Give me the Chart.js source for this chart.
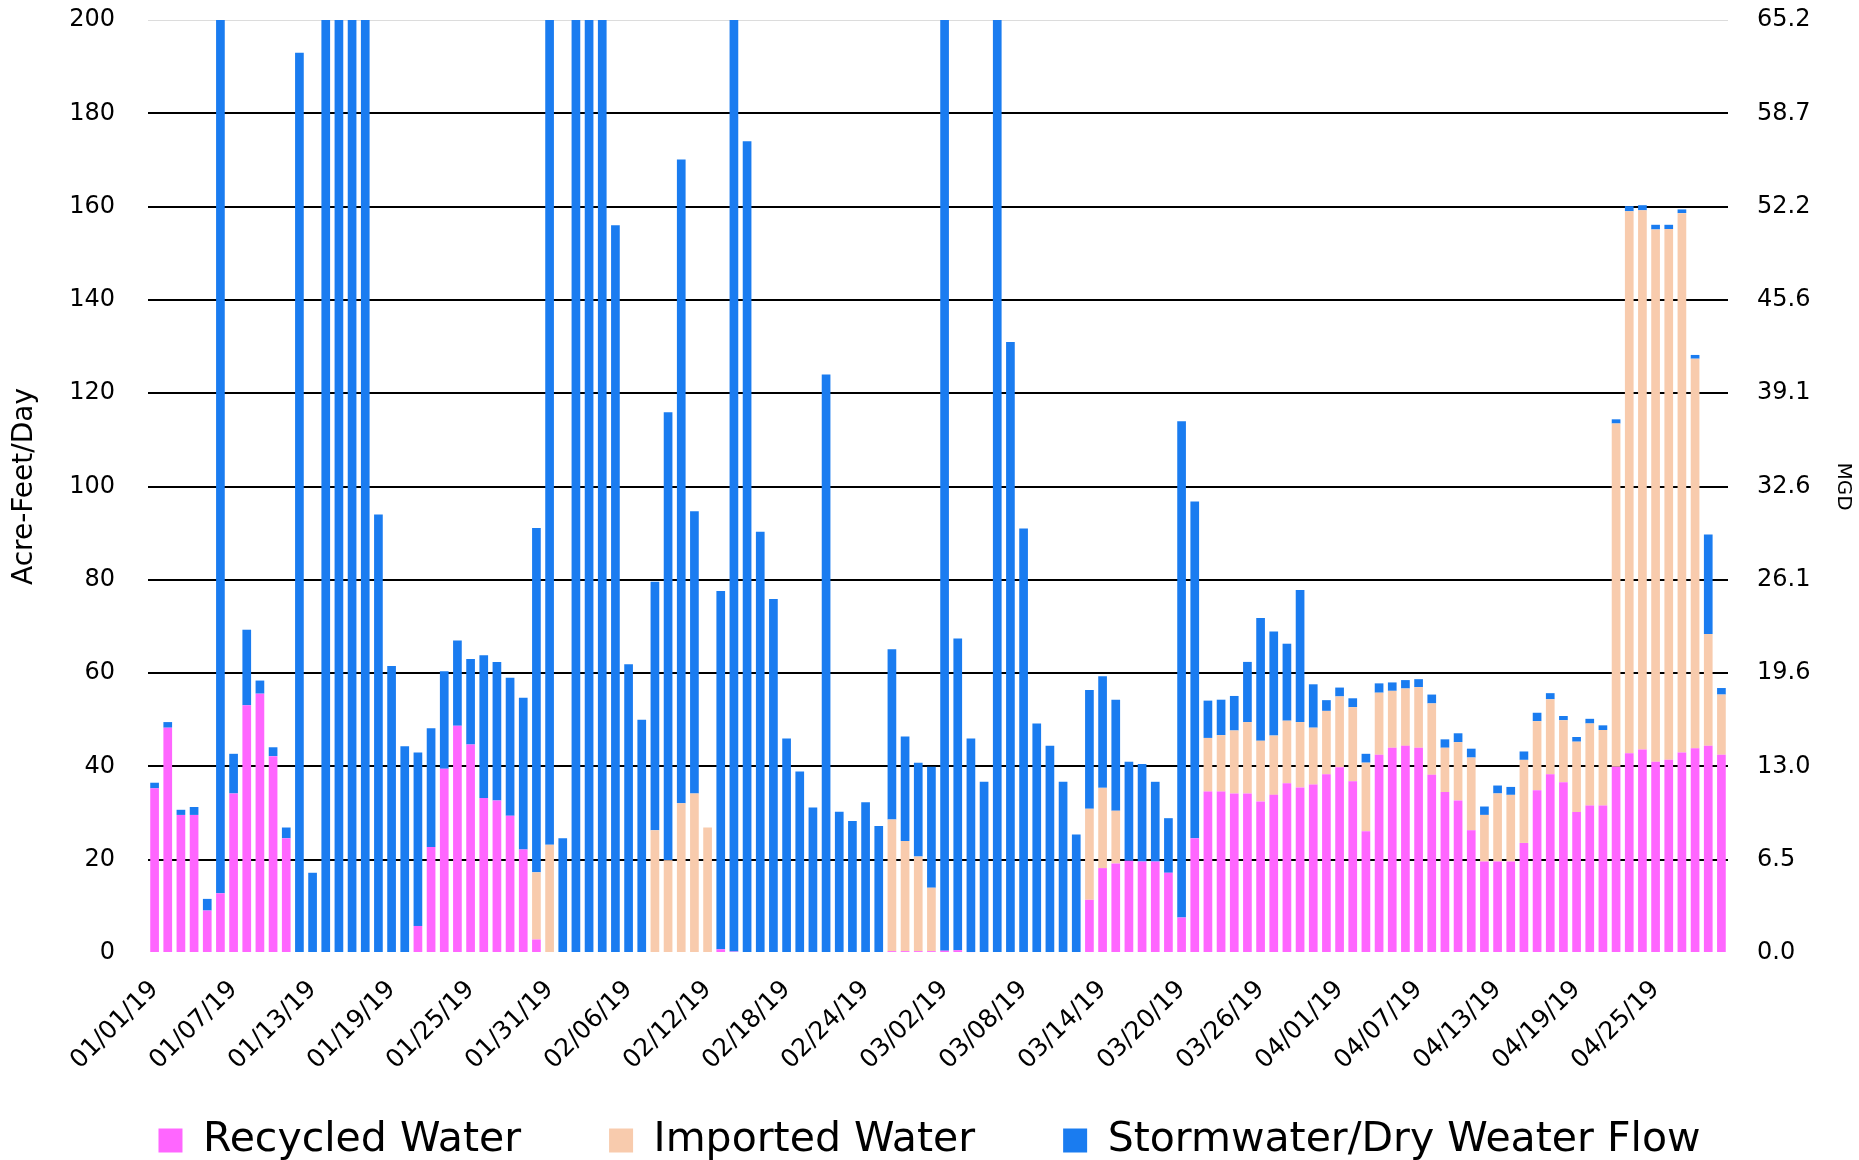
<!DOCTYPE html>
<html lang="en">
<head>
    <meta charset="UTF-8">
    <title>Water Sources</title>
    <script src="https://cdn.jsdelivr.net/npm/chart.js"></script>
    <style>
        body { margin: 0; background: #fff; }
        #wrap { width: 1859px; height: 1160px; position: relative; }
    </style>
</head>
<body>
    <div id="wrap"><canvas id="waterChart"></canvas></div>

    <script>
        // one bar per day, 01/01/19 .. 04/30/19
        const startDate = new Date(2019, 0, 1);
        const dayCount = 120;
        const dates = [];
        for (let i = 0; i < dayCount; i++) {
            const d = new Date(startDate.getFullYear(), startDate.getMonth(), startDate.getDate() + i);
            const mm = String(d.getMonth() + 1).padStart(2, '0');
            const dd = String(d.getDate()).padStart(2, '0');
            dates.push(mm + '/' + dd + '/19');
        }

        // acre-feet per day (bars above 200 run off the top of the plot)
        const recycled = [
            35.3, 48.3, 29.6, 29.6, 9.1, 12.8, 34.2, 53.1, 55.6, 42.2,
            24.6, 0, 0, 0, 0, 0, 0, 0, 0, 0,
            5.8, 22.7, 39.5, 48.7, 44.7, 33.2, 32.7, 29.4, 22.2, 2.9,
            0, 0, 0, 0, 0, 0, 0, 0, 0, 0,
            0, 0, 0, 0.8, 0.3, 0, 0, 0, 0, 0,
            0, 0, 0, 0, 0, 0, 0.4, 0.4, 0.4, 0.4,
            0.5, 0.6, 0.2, 0, 0, 0, 0, 0, 0, 0,
            0, 11.4, 18.2, 19.2, 19.8, 19.6, 19.6, 17.2, 7.6, 24.6,
            34.6, 34.6, 34.2, 34.2, 32.5, 33.9, 36.4, 35.5, 36.1, 38.3,
            39.8, 36.8, 26.1, 42.5, 44.0, 44.4, 44.0, 38.2, 34.5, 32.7,
            26.3, 19.6, 19.6, 19.6, 23.6, 34.9, 38.3, 36.6, 30.2, 31.6,
            31.6, 39.9, 42.8, 43.6, 41.0, 41.4, 43.0, 43.9, 44.4, 42.5
        ];
        const imported = [
            0, 0, 0, 0, 0, 0, 0, 0, 0, 0,
            0, 0, 0, 0, 0, 0, 0, 0, 0, 0,
            0, 0, 0, 0, 0, 0, 0, 0, 0, 14.4,
            23.2, 0, 0, 0, 0, 0, 0, 0, 26.3, 19.9,
            32.1, 34.2, 26.9, 0, 0, 0, 0, 0, 0, 0,
            0, 0, 0, 0, 0, 0, 28.2, 23.6, 20.3, 13.6,
            0, 0, 0, 0, 0, 0, 0, 0, 0, 0,
            0, 19.5, 17.2, 11.3, 0, 0, 0, 0, 0, 0,
            11.5, 12.1, 13.5, 15.3, 13.0, 12.7, 13.4, 14.0, 12.2, 13.6,
            15.2, 15.9, 14.7, 13.3, 12.2, 12.3, 13.0, 15.3, 9.5, 12.5,
            15.6, 10.0, 14.6, 14.3, 17.8, 14.8, 16.1, 13.3, 15.1, 17.6,
            16.2, 73.6, 116.2, 115.6, 114.1, 113.8, 115.6, 83.5, 24.0, 12.9
        ];
        const stormwater = [
            1.2, 1.2, 1.1, 1.7, 2.5, 250, 8.5, 16.2, 2.8, 1.9,
            2.3, 193, 17.2, 250, 250, 250, 250, 94.0, 61.5, 44.3,
            37.2, 25.5, 20.9, 18.3, 18.3, 30.6, 29.7, 29.6, 32.5, 73.8,
            250, 24.6, 250, 250, 250, 156, 61.9, 50.0, 53.3, 96.0,
            138, 60.5, -0.5, 76.8, 250, 174, 90.3, 75.9, 46.0, 38.9,
            31.2, 124, 30.3, 28.3, 32.3, 27.2, 36.5, 22.4, 20.1, 25.9,
            250, 66.8, 45.8, 36.7, 250, 131, 91.0, 49.2, 44.4, 36.7,
            25.4, 25.5, 23.9, 23.8, 21.2, 20.9, 17.1, 11.7, 106.4, 72.2,
            8.0, 7.6, 7.4, 12.9, 26.3, 22.3, 16.5, 28.3, 9.3, 2.3,
            1.9, 1.9, 1.9, 2.0, 1.8, 1.8, 1.7, 1.9, 1.8, 1.9,
            1.9, 1.8, 1.7, 1.7, 1.8, 1.8, 1.3, 0.9, 1.0, 1.0,
            1.0, 0.9, 1.1, 1.1, 1.0, 0.9, 0.8, 0.8, 21.3, 1.4
        ];

        const afTicks = [0, 20, 40, 60, 80, 100, 120, 140, 160, 180, 200];
        const mgdTicks = ['0.0', '6.5', '13.0', '19.6', '26.1', '32.6', '39.1', '45.6', '52.2', '58.7', '65.2'];

        const FONT = "'DejaVu Sans', sans-serif";

        const layoutFix = {
            id: 'layoutFix',
            beforeInit(chart) {
                // legend sits under the rotated date labels
                const origFit = chart.legend.fit;
                chart.legend.fit = function () {
                    origFit.bind(chart.legend)();
                    this.height = 128;
                };
            },
            afterLayout(chart) {
                // let the rotated date labels spill below the x-axis box
                chart.scales.x._computeLabelArea = () => null;
            }
        };

        const fixVertical = s => {
            s.paddingTop = 20;
            s.paddingBottom = 14;
        };

        const ctx = document.getElementById('waterChart').getContext('2d');
        new Chart(ctx, {
            type: 'bar',
            data: {
                labels: dates,
                datasets: [
                    { label: 'Recycled Water', data: recycled, backgroundColor: '#FF66FF' },
                    { label: 'Imported Water', data: imported, backgroundColor: '#F8CBAD' },
                    { label: 'Stormwater/Dry Weater Flow', data: stormwater, backgroundColor: '#1A7CF0' }
                ]
            },
            options: {
                responsive: true,
                maintainAspectRatio: false,
                animation: false,
                layout: { padding: 0 },
                datasets: {
                    bar: {
                        barPercentage: 0.66,
                        categoryPercentage: 1.0,
                        borderWidth: 0
                    }
                },
                plugins: {
                    legend: {
                        position: 'bottom',
                        labels: {
                            boxWidth: 24,
                            boxHeight: 24,
                            padding: 88,
                            color: '#000',
                            font: { family: FONT, size: 41 }
                        }
                    },
                    tooltip: { enabled: false }
                },
                scales: {
                    x: {
                        stacked: true,
                        grid: { display: false },
                        border: { display: false },
                        ticks: {
                            autoSkip: false,
                            minRotation: 45,
                            maxRotation: 45,
                            padding: 14,
                            color: '#000',
                            font: { family: FONT, size: 25 },
                            callback: (v, i) => (i % 6 === 0 ? dates[i] : null)
                        },
                        afterFit: s => {
                            s.height = 79;
                            s.paddingTop = 0;
                            s.paddingBottom = 0;
                        }
                    },
                    y: {
                        stacked: true,
                        min: 0,
                        max: 200,
                        position: 'left',
                        border: { display: false },
                        grid: {
                            drawTicks: false,
                            color: c => (c.tick.value === 200 ? '#dcdcdc' : c.tick.value === 0 ? 'rgba(0,0,0,0)' : '#000'),
                            lineWidth: c => (c.tick.value === 200 ? 1 : 2)
                        },
                        ticks: {
                            stepSize: 20,
                            padding: 33,
                            color: '#000',
                            font: { family: FONT, size: 24 },
                            callback: (v, i) => afTicks[i]
                        },
                        title: {
                            display: true,
                            text: 'Acre-Feet/Day',
                            color: '#000',
                            padding: { top: 8, bottom: 4 },
                            font: { family: FONT, size: 28 }
                        },
                        afterFit: s => {
                            s.width = 148;
                            fixVertical(s);
                        }
                    },
                    y2: {
                        min: 0,
                        max: 200,
                        position: 'right',
                        border: { display: false },
                        grid: { drawOnChartArea: false, drawTicks: false },
                        ticks: {
                            stepSize: 20,
                            padding: 29,
                            color: '#000',
                            font: { family: FONT, size: 24 },
                            callback: (v, i) => mgdTicks[i]
                        },
                        title: {
                            display: true,
                            text: 'MGD',
                            color: '#000',
                            padding: { top: 4, bottom: 6 },
                            font: { family: FONT, size: 20 }
                        },
                        afterFit: s => {
                            s.width = 131;
                            fixVertical(s);
                        }
                    }
                }
            },
            plugins: [layoutFix]
        });
    </script>
</body>
</html>
